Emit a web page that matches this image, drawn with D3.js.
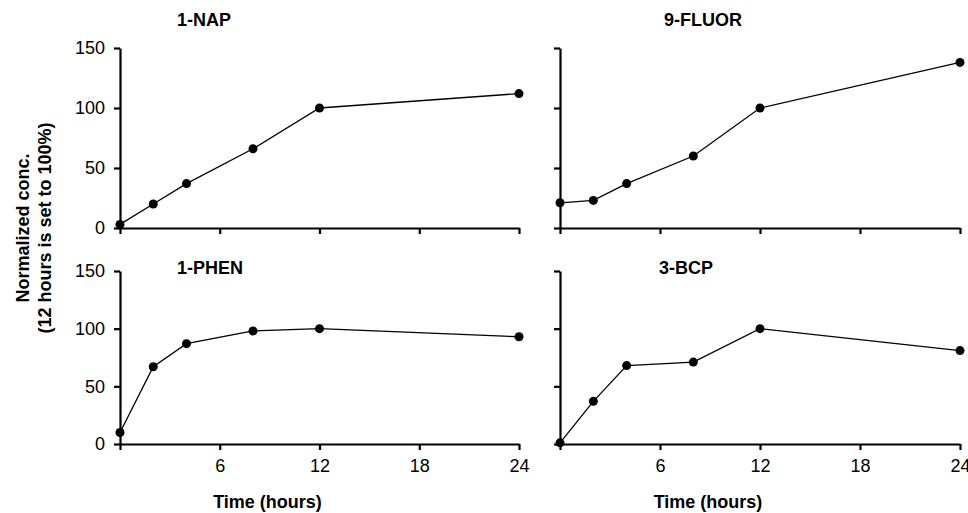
<!DOCTYPE html>
<html>
<head>
<meta charset="utf-8">
<script src="https://cdn.jsdelivr.net/npm/d3@7"></script>
<style>
  body { margin: 0; background: white; }
  text { font-family: "Liberation Sans", Arial, Helvetica, sans-serif; }
</style>
</head>
<body>
<div id="chart"></div>
<script>
const width = 968;
const height = 513;

// data
const hours = [0, 2, 4, 8, 12, 24];
const nap1 = [3, 20, 37, 66, 100, 112];
const fluor9 = [21, 23, 37, 60, 100, 138];
const phen1 = [10, 67, 87, 98, 100, 93];
const bcp3 = [1, 37, 68, 71, 100, 81];
const xTicks = [0, 6, 12, 18, 24];
const yTicks = [0, 50, 100, 150];

const panels = [
    {name: "1-NAP", values: nap1, x0: 120, x1: 519, yTop: 48, yBot: 228, left: true, bottom: false, tx: 204, ty: 26},
    {name: "9-FLUOR", values: fluor9, x0: 560, x1: 960, yTop: 48, yBot: 228, left: false, bottom: false, tx: 703, ty: 26},
    {name: "1-PHEN", values: phen1, x0: 120, x1: 519, yTop: 271, yBot: 444, left: true, bottom: true, tx: 210, ty: 274},
    {name: "3-BCP", values: bcp3, x0: 560, x1: 960, yTop: 271, yBot: 444, left: false, bottom: true, tx: 686, ty: 274}
];

const svg = d3.select("#chart")
    .append("svg")
    .attr("width", width)
    .attr("height", height)
    .attr("viewBox", [0, 0, width, height]);

svg.append("rect")
    .attr("width", width)
    .attr("height", height)
    .attr("fill", "white");

panels.forEach(p => {
    const x = d3.scaleLinear().domain([0, 24]).range([p.x0, p.x1]);
    const y = d3.scaleLinear().domain([0, 150]).range([p.yBot, p.yTop]);
    const g = svg.append("g");

    const xAxis = g.append("g")
        .attr("transform", "translate(0," + p.yBot + ")")
        .call(d3.axisBottom(x)
            .tickValues(xTicks)
            .tickSize(6)
            .tickPadding(9)
            .tickSizeOuter(0)
            .tickFormat(d => (p.bottom && d > 0) ? d : ""));

    const yAxis = g.append("g")
        .attr("transform", "translate(" + p.x0 + ",0)")
        .call(d3.axisLeft(y)
            .tickValues(yTicks)
            .tickSize(6)
            .tickPadding(9)
            .tickSizeOuter(0)
            .tickFormat(d => p.left ? d : ""));

    [xAxis, yAxis].forEach(a => {
        a.select(".domain").attr("stroke", "black").attr("stroke-width", 2.2);
        a.selectAll(".tick line").attr("stroke", "black").attr("stroke-width", 2.2);
        a.selectAll(".tick text")
            .attr("fill", "black")
            .attr("font-size", "18px")
            .attr("font-family", "Liberation Sans, Arial, sans-serif");
    });

    const line = d3.line()
        .x((d, i) => x(hours[i]))
        .y(d => y(d));

    g.append("path")
        .datum(p.values)
        .attr("fill", "none")
        .attr("stroke", "black")
        .attr("stroke-width", 1.3)
        .attr("d", line);

    g.selectAll(".pt")
        .data(p.values)
        .enter()
        .append("circle")
        .attr("class", "pt")
        .attr("cx", (d, i) => x(hours[i]))
        .attr("cy", d => y(d))
        .attr("r", 4.5)
        .attr("fill", "black");

    g.append("text")
        .attr("x", p.tx)
        .attr("y", p.ty)
        .attr("text-anchor", "middle")
        .attr("font-size", "18px")
        .attr("font-weight", "bold")
        .text(p.name);

    if (p.bottom) {
        g.append("text")
            .attr("x", (p.x0 + p.x1) / 2 - 52)
            .attr("y", 508)
            .attr("text-anchor", "middle")
            .attr("font-size", "18px")
            .attr("font-weight", "bold")
            .text("Time (hours)");
    }
});

// shared y title
const yTitle = svg.append("text")
    .attr("transform", "translate(0,228) rotate(-90)")
    .attr("text-anchor", "middle")
    .attr("font-size", "18px")
    .attr("font-weight", "bold");
yTitle.append("tspan").attr("x", 0).attr("y", 29).text("Normalized conc.");
yTitle.append("tspan").attr("x", 0).attr("y", 51).text("(12 hours is set to 100%)");
</script>
</body>
</html>
